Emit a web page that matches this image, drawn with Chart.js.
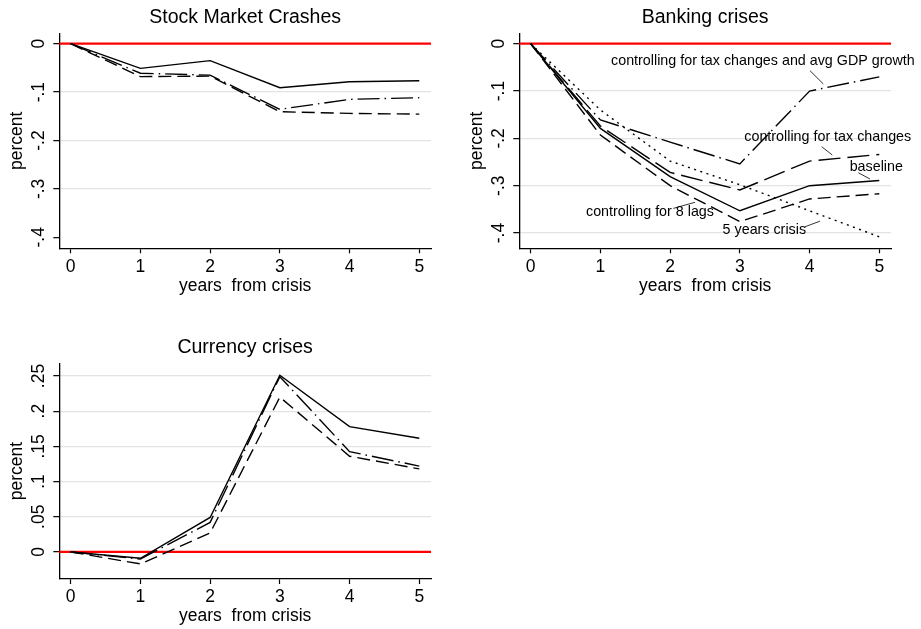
<!DOCTYPE html>
<html>
<head>
<meta charset="utf-8">
<title>Output responses to financial crises</title>
<script src="https://cdn.jsdelivr.net/npm/chart.js@4.4.0/dist/chart.umd.min.js"></script>
<style>
  html, body { margin: 0; padding: 0; background: #fff; width: 921px; height: 629px; overflow: hidden; }
  .panel { position: absolute; width: 490px; height: 300px; }
  .panel canvas { display: block; }
</style>
</head>
<body>
<div class="panel" style="left:0;top:0"><canvas id="stock" width="490" height="300"></canvas></div>
<div class="panel" style="left:460px;top:0"><canvas id="bank" width="490" height="300"></canvas></div>
<div class="panel" style="left:0;top:330px"><canvas id="curr" width="490" height="300"></canvas></div>
<script>
// ---- data -------------------------------------------------------------
const years = [0, 1, 2, 3, 4, 5];
const xTicks = [0, 1, 2, 3, 4, 5];
const xTickLabels = ['0', '1', '2', '3', '4', '5'];

// Stock market crashes
const stockBaseline = [0, -0.051, -0.035, -0.091, -0.0785, -0.0765];
const stockDashDot  = [0, -0.061, -0.065, -0.1355, -0.115, -0.1115];
const stockDash     = [0, -0.068, -0.067, -0.1405, -0.144, -0.1455];
const stockTicks      = [-0.4, -0.3, -0.2, -0.1, 0];
const stockTickLabels = ['-.4', '-.3', '-.2', '-.1', '0'];

// Banking crises
const bankBaseline  = [0, -0.179, -0.281, -0.353, -0.300, -0.289];
const bankTaxGdp    = [0, -0.161, -0.208, -0.254, -0.100, -0.070];
const bankTax       = [0, -0.174, -0.272, -0.309, -0.248, -0.234];
const bankLags      = [0, -0.193, -0.300, -0.376, -0.328, -0.317];
const bankFiveYears = [0, -0.140, -0.248, -0.298, -0.353, -0.408];
const bankTicks      = [-0.4, -0.3, -0.2, -0.1, 0];
const bankTickLabels = ['-.4', '-.3', '-.2', '-.1', '0'];

// Currency crises
const currBaseline = [0, -0.009, 0.049, 0.251, 0.178, 0.1615];
const currDashDot  = [0, -0.010, 0.042, 0.249, 0.1425, 0.122];
const currDash     = [0, -0.017, 0.027, 0.220, 0.136, 0.118];
const currTicks      = [0, 0.05, 0.1, 0.15, 0.2, 0.25];
const currTickLabels = ['0', '.05', '.1', '.15', '.2', '.25'];

// Labels written next to the banking-crisis lines (text + leader line, in data units)
const bankNoteTexts = ['controlling for tax changes and avg GDP growth', 'controlling for tax changes',
                       'baseline', 'controlling for 8 lags', '5 years crisis'];
const bankNoteAt   = [[3.33, -0.036], [4.261, -0.198], [4.957, -0.260], [1.711, -0.356], [3.351, -0.394]];
const bankNoteFrom = [[4.006, -0.057], [4.174, -0.2176], [4.699, -0.2726], [2.046, -0.348], [3.93, -0.387]];
const bankNoteTo   = [[4.197, -0.085], [4.326, -0.2352], [4.867, -0.2859], [2.357, -0.335], [4.149, -0.375]];

// ---- styling ----------------------------------------------------------
const FONT = '"Liberation Sans", Arial, Helvetica, sans-serif';
Chart.defaults.font.family = FONT;
Chart.defaults.color = '#000';

const DASH      = [13, 6];
const LONGDASH  = [22, 7];
const DASHDOT   = [22, 5, 1.5, 5];
const DOT       = [2, 4.5];

const X_MIN = -0.1635, X_MAX = 5.168;

// panel title centred over the plot region
const panelTitle = {
  id: 'panelTitle',
  afterDraw(chart, args, opts) {
    const ca = chart.chartArea, ctx = chart.ctx;
    ctx.save();
    ctx.font = '19.5px ' + FONT;
    ctx.fillStyle = '#000';
    ctx.textAlign = 'center';
    ctx.textBaseline = 'middle';
    ctx.fillText(opts.text, (ca.left + ca.right) / 2, ca.top - 16);
    ctx.restore();
  }
};

// vertical (rotated) y tick labels
const yLabels = {
  id: 'yLabels',
  afterDraw(chart, args, opts) {
    const s = chart.scales.y, ctx = chart.ctx;
    ctx.save();
    ctx.font = '17.5px ' + FONT;
    ctx.fillStyle = '#000';
    ctx.textAlign = 'center';
    ctx.textBaseline = 'middle';
    opts.ticks.forEach((v, i) => {
      ctx.save();
      ctx.translate(39, s.getPixelForValue(v));
      ctx.rotate(-Math.PI / 2);
      ctx.fillText(opts.labels[i], 0, 0);
      ctx.restore();
    });
    ctx.restore();
  }
};

// red reference line at zero, drawn beneath the series
const zeroLine = {
  id: 'zeroLine',
  beforeDatasetsDraw(chart) {
    const ca = chart.chartArea, ctx = chart.ctx;
    const y = chart.scales.y.getPixelForValue(0);
    ctx.save();
    ctx.strokeStyle = '#ff0000';
    ctx.lineWidth = 2.2;
    ctx.beginPath();
    ctx.moveTo(ca.left, y);
    ctx.lineTo(ca.right, y);
    ctx.stroke();
    ctx.restore();
  }
};

// text labels with leader lines
const notes = {
  id: 'notes',
  afterDatasetsDraw(chart, args, opts) {
    if (!opts.texts) return;
    const sx = chart.scales.x, sy = chart.scales.y, ctx = chart.ctx;
    ctx.save();
    ctx.strokeStyle = '#000';
    ctx.lineWidth = 0.8;
    ctx.fillStyle = '#000';
    ctx.font = '14.3px ' + FONT;
    ctx.textAlign = 'center';
    ctx.textBaseline = 'middle';
    opts.texts.forEach((t, i) => {
      ctx.beginPath();
      ctx.moveTo(sx.getPixelForValue(opts.from[i][0]), sy.getPixelForValue(opts.from[i][1]));
      ctx.lineTo(sx.getPixelForValue(opts.to[i][0]), sy.getPixelForValue(opts.to[i][1]));
      ctx.stroke();
      ctx.fillText(t, sx.getPixelForValue(opts.at[i][0]), sy.getPixelForValue(opts.at[i][1]));
    });
    ctx.restore();
  }
};

function series(values, dash) {
  return {
    data: values.map((v, i) => ({ x: years[i], y: v })),
    borderColor: '#000',
    borderWidth: 1.4,
    borderDash: dash,
    pointRadius: 0,
    tension: 0,
    fill: false
  };
}

function makePanel(id, cfg) {
  return new Chart(document.getElementById(id), {
    type: 'line',
    data: { datasets: cfg.datasets },
    plugins: [zeroLine, panelTitle, yLabels, notes],
    options: {
      responsive: false,
      animation: false,
      devicePixelRatio: 1,
      layout: { padding: { left: 0, right: 59, top: 33.3, bottom: 0 } },
      plugins: {
        legend: { display: false },
        tooltip: { enabled: false },
        panelTitle: { text: cfg.title },
        yLabels: { ticks: cfg.yTicks, labels: cfg.yTickLabels },
        notes: cfg.notes || {}
      },
      scales: {
        x: {
          type: 'linear',
          min: X_MIN, max: X_MAX,
          afterBuildTicks: s => { s.ticks = xTicks.map(v => ({ value: v })); },
          afterFit: s => { s.height = cfg.xHeight; },
          ticks: {
            autoSkip: false, maxRotation: 0, padding: 3,
            font: { size: 17.5 }, color: '#000',
            callback: (v) => xTickLabels[xTicks.indexOf(v)]
          },
          grid: { drawOnChartArea: false, drawTicks: true, tickLength: 5, tickColor: '#000', tickWidth: 1.2 },
          border: { display: true, color: '#000', width: 1.3 },
          title: { display: true, text: 'years  from crisis', font: { size: 17.5 }, color: '#000', padding: { top: 0, bottom: 3.5 } }
        },
        y: {
          type: 'linear',
          min: cfg.yMin, max: cfg.yMax,
          afterBuildTicks: s => { s.ticks = cfg.yTicks.map(v => ({ value: v })); },
          afterFit: s => { s.width = 59.3; },
          ticks: { display: false },
          grid: {
            drawOnChartArea: true, drawTicks: true, tickLength: 6, tickWidth: 1.2,
            tickColor: '#000',
            lineWidth: 1.3,
            color: c => (c.tick && (c.tick.value === 0 || cfg.noGrid.includes(c.tick.value))) ? 'rgba(0,0,0,0)' : '#e3e3e3'
          },
          border: { display: true, color: '#000', width: 1.3 },
          title: { display: true, text: 'percent', font: { size: 17.5 }, color: '#000', padding: { top: 7, bottom: 0 } }
        }
      }
    }
  });
}

makePanel('stock', {
  title: 'Stock Market Crashes',
  yMin: -0.4227, yMax: 0.0215, xHeight: 51.7,
  yTicks: stockTicks, yTickLabels: stockTickLabels, noGrid: [-0.4],
  datasets: [series(stockBaseline, []), series(stockDashDot, DASHDOT), series(stockDash, DASH)]
});

makePanel('bank', {
  title: 'Banking crises',
  yMin: -0.4323, yMax: 0.022, xHeight: 51.7,
  yTicks: bankTicks, yTickLabels: bankTickLabels, noGrid: [],
  datasets: [
    series(bankBaseline, []),
    series(bankTaxGdp, DASHDOT),
    series(bankTax, LONGDASH),
    series(bankLags, DASH),
    series(bankFiveYears, DOT)
  ],
  notes: { texts: bankNoteTexts, at: bankNoteAt, from: bankNoteFrom, to: bankNoteTo }
});

makePanel('curr', {
  title: 'Currency crises',
  yMin: -0.0384, yMax: 0.268, xHeight: 51,
  yTicks: currTicks, yTickLabels: currTickLabels, noGrid: [],
  datasets: [series(currBaseline, []), series(currDashDot, DASHDOT), series(currDash, DASH)]
});
</script>
</body>
</html>
